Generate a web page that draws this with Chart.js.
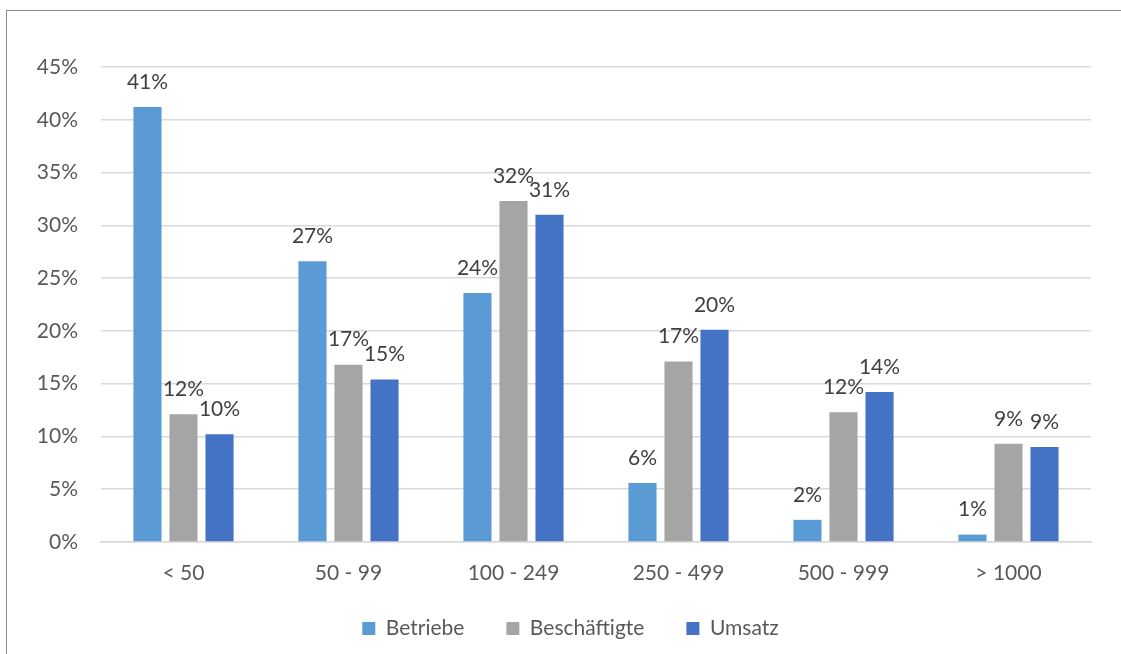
<!DOCTYPE html>
<html lang="de">
<head>
<meta charset="UTF-8">
<title>Betriebe, Beschäftigte, Umsatz nach Größenklassen</title>
<script src="https://cdn.jsdelivr.net/npm/chart.js"></script>
<style>
    html, body { margin: 0; padding: 0; background: #FFFFFF; overflow: hidden; }
    .frame {
        position: absolute; left: 6px; top: 10px;
        width: 1140px; height: 700px;
        border: 1.5px solid #8C8C8C;
    }
    #chart { position: absolute; left: 0; top: 0; }
</style>
</head>
<body>
<div class="frame"></div>
<canvas id="chart" width="1121" height="654"></canvas>
<script>
    // Größenklassen und Anteile (%)
    const categories = ['< 50', '50 - 99', '100 - 249', '250 - 499', '500 - 999', '> 1000'];
    const betriebe     = [41.2, 26.6, 23.6, 5.6, 2.1, 0.7];
    const beschaeftigte = [12.1, 16.8, 32.3, 17.1, 12.3, 9.3];
    const umsatz       = [10.2, 15.4, 31.0, 20.1, 14.2, 9.0];
    const seriesNames  = ['Betriebe', 'Beschäftigte', 'Umsatz'];
    const yTicks       = [0, 5, 10, 15, 20, 25, 30, 35, 40, 45];

    const colors = {
        betriebe: '#5B9BD5',
        beschaeftigte: '#A5A5A5',
        umsatz: '#4472C4',
        text: '#595959',
        grid: '#D9D9D9'
    };
    const font = { family: 'Lato, "Open Sans", sans-serif', size: 21 };

    // Werte über den Balken (wie Excel-Datenbeschriftung)
    const valueLabels = {
        id: 'valueLabels',
        afterDatasetsDraw(chart) {
            const ctx = chart.ctx;
            ctx.save();
            ctx.font = `${font.size}px ${font.family}`;
            ctx.fillStyle = '#404040';
            ctx.textAlign = 'center';
            ctx.textBaseline = 'middle';
            chart.data.datasets.forEach((ds, i) => {
                chart.getDatasetMeta(i).data.forEach((bar, j) => {
                    ctx.fillText(Math.round(ds.data[j]) + '%', bar.x, bar.y - 25);
                });
            });
            ctx.restore();
        }
    };

    // Legende etwas nach oben/rechts schieben (wie im Excel-Original)
    const legendShift = {
        id: 'legendShift',
        afterLayout(chart) {
            const l = chart.legend;
            l.top -= 14; l.bottom -= 14;
            l.left += 25; l.right += 25;
        }
    };

    new Chart(document.getElementById('chart'), {
        type: 'bar',
        data: {
            labels: categories,
            datasets: [
                { label: seriesNames[0], data: betriebe, backgroundColor: colors.betriebe },
                { label: seriesNames[1], data: beschaeftigte, backgroundColor: colors.beschaeftigte },
                { label: seriesNames[2], data: umsatz, backgroundColor: colors.umsatz }
            ]
        },
        options: {
            responsive: false,
            animation: false,
            devicePixelRatio: 1,
            layout: { padding: { top: 67, right: 30, bottom: -9, left: 0 } },
            datasets: { bar: { categoryPercentage: 0.655, barPercentage: 0.78 } },
            plugins: {
                tooltip: { enabled: false },
                legend: {
                    position: 'bottom',
                    labels: {
                        color: colors.text,
                        font: font,
                        boxWidth: 13,
                        boxHeight: 13,
                        padding: 42
                    }
                }
            },
            scales: {
                x: {
                    grid: { display: false, drawTicks: false },
                    border: { color: colors.grid, width: 1.5 },
                    ticks: { color: colors.text, font: font, padding: 19 },
                    afterFit: s => { s.height = 48; }
                },
                y: {
                    min: 0,
                    max: 45,
                    grid: { color: colors.grid, lineWidth: 1.5, drawTicks: false },
                    border: { display: false },
                    afterBuildTicks: s => { s.ticks = yTicks.map(v => ({ value: v })); },
                    ticks: { color: colors.text, font: font, padding: 23, callback: v => v + '%' },
                    afterFit: s => { s.width = 101; }
                }
            }
        },
        plugins: [valueLabels, legendShift]
    });
</script>
</body>
</html>
